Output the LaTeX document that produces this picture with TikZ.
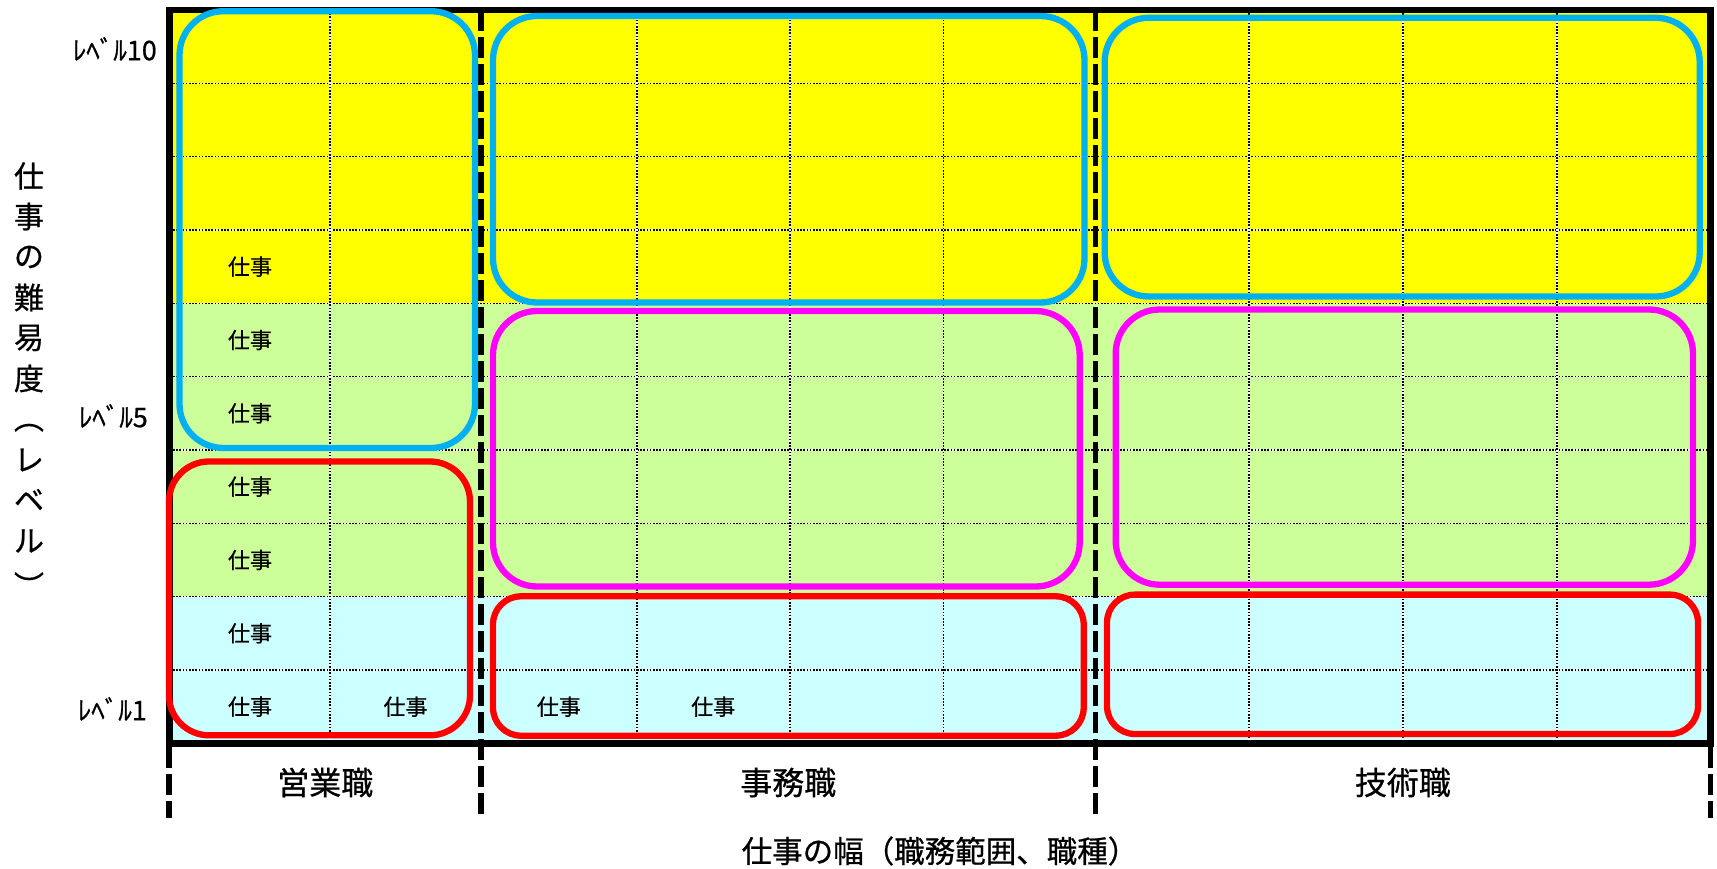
\documentclass[tikz,border=0pt]{standalone}
\usepackage{fontspec}
\setmainfont[FakeBold=0.7]{Noto Sans CJK JP}
\definecolor{ylw}{HTML}{FFFF00}
\definecolor{grn}{HTML}{CCFF99}
\definecolor{lcy}{HTML}{CCFFFF}
\definecolor{bluebox}{HTML}{00B0F0}
\definecolor{magbox}{HTML}{FF00FF}
\definecolor{redbox}{HTML}{FF0000}
\begin{document}
\begin{tikzpicture}[x=1pt,y=-1pt,
  gridw/.style={draw=white,line width=1.6pt},
  gridb/.style={draw=black,line width=1.6pt,dash pattern=on 1.6pt off 1.6pt},
  sectdash/.style={draw=black,line width=5.5pt,dash pattern=on 21pt off 6pt},
  bluer/.style={draw=bluebox,line width=6.3pt,rounded corners=44pt},
  magr/.style={draw=magbox,line width=6.3pt,rounded corners=44pt},
  redr/.style={draw=redbox,line width=6.3pt,rounded corners=40pt},
  redrs/.style={draw=redbox,line width=6.3pt,rounded corners=28pt},
  job/.style={font=\fontsize{22}{26}\selectfont,inner sep=0pt},
  lvl/.style={font=\fontsize{27}{32}\selectfont,inner sep=0pt,anchor=east},
  cat/.style={font=\fontsize{32}{38}\selectfont,inner sep=0pt},
  vt/.style={font=\fontsize{30}{36}\selectfont,inner sep=0pt}]
\useasboundingbox (0,0) rectangle (1717,869);
% background bands
\fill[ylw] (169.7,10) rectangle (1710.3,303.3);
\fill[grn] (169.7,303.3) rectangle (1710.3,596.7);
\fill[lcy] (169.7,596.7) rectangle (1710.3,743.3);
% grid
\foreach \k in {1,...,9}{
  \pgfmathsetmacro\yy{10+73.33*\k}
  \draw[gridw] (169.7,\yy) -- (1710.3,\yy);
  \draw[gridb] (169.7,\yy) -- (1710.3,\yy);
}
\foreach \xx in {330,636.7,789.7,943.3,1249,1403,1556.7}{
  \draw[gridw] (\xx,10) -- (\xx,743.3);
  \draw[gridb] (\xx,10) -- (\xx,743.3);
}
% section dashed lines
\draw[sectdash] (481,10) -- (481,818);
\draw[sectdash] (1095.5,10) -- (1095.5,818);
\draw[sectdash] (169.2,747) -- (169.2,818);
\draw[sectdash] (1710.3,747) -- (1710.3,818);
% outer border
\draw[line width=6.5pt] (169.7,10) rectangle (1710.3,743.3);
% rounded groups
\draw[bluer] (179.5,11.2) rectangle (475,448);
\draw[bluer] (493,16) rectangle (1084.5,302.5);
\draw[bluer] (1104.7,17.8) rectangle (1699.7,296.5);
\draw[magr] (493,311) rectangle (1079.7,586.5);
\draw[magr] (1115.7,309.5) rectangle (1693,584.7);
\draw[redr] (169,461.5) rectangle (470,735.3);
\draw[redrs] (493,596.3) rectangle (1083.7,735.7);
\draw[redrs] (1107,594.6) rectangle (1698,734);
% job labels
\foreach \r in {4,...,10}{
  \node[job] (ja\r) at (250,{10+73.33*(\r-0.5)}) {仕事};
}
\node[job] (jb10) at (405.5,706.7) {仕事};
\node[job] (jc10) at (558.8,706.7) {仕事};
\node[job] (jd10) at (713.2,706.7) {仕事};
% level labels
\node[lvl] (l10) at (157,49) {ﾚﾍﾞﾙ10};
\node[lvl] (l5) at (148,416) {ﾚﾍﾞﾙ5};
\node[lvl] (l1) at (147,709) {ﾚﾍﾞﾙ1};
% category labels
\node[cat] (c1) at (325.3,782.5) {営業職};
\node[cat] (c2) at (788.3,782.5) {事務職};
\node[cat] (c3) at (1402.9,782.5) {技術職};
% x-axis title
\node[font=\fontsize{30.5}{36}\selectfont,inner sep=0pt] (xt) at (940,851) {仕事の幅（職務範囲、職種）};
% vertical y-axis title
\foreach \c [count=\i] in {仕,事,の,難,易,度}{
  \node[vt] (v\i) at (29,{176+40.5*(\i-1)}) {\c};
}
\node[vt,rotate=-90] (v7) at (29,418) {（};
\node[vt] (v8) at (29,460) {レ};
\node[vt] (v9) at (29,500) {ベ};
\node[vt] (v10) at (29,541) {ル};
\node[vt,rotate=-90] (v11) at (29,586) {）};
\end{tikzpicture}
\end{document}
